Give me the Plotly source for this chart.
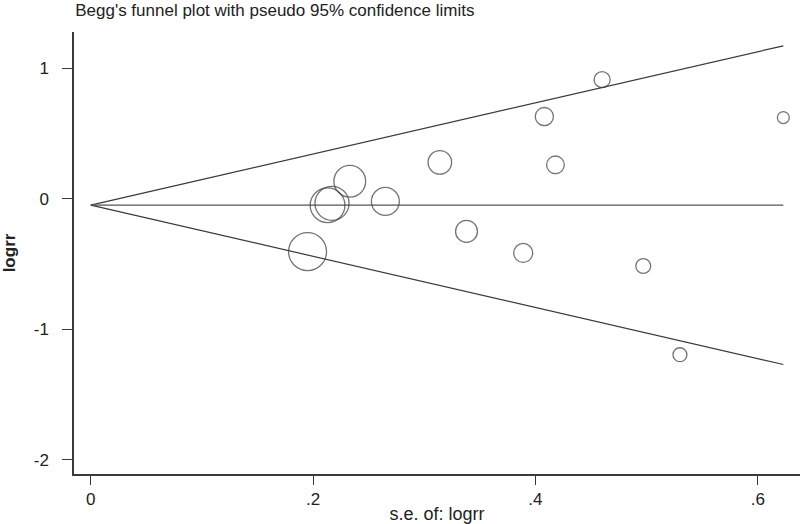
import plotly.graph_objects as go

# study-level estimates
se = [0.460, 0.408, 0.623, 0.314, 0.418, 0.233, 0.213, 0.217, 0.265, 0.195, 0.338, 0.389, 0.497, 0.530]
logrr = [0.913, 0.630, 0.622, 0.279, 0.260, 0.134, -0.050, -0.035, -0.020, -0.405, -0.250, -0.415, -0.515, -1.195]

pooled = -0.049
se_max = max(se)

x_ticks = [0, 0.2, 0.4, 0.6]
x_labels = ["0", ".2", ".4", ".6"]
y_ticks = [-2, -1, 0, 1]
y_labels = ["-2", "-1", "0", "1"]

line_color = "#3a3a3a"
font = "Liberation Sans, Arial, sans-serif"

fig = go.Figure()

# pseudo 95% confidence limits and pooled estimate
fig.add_trace(go.Scatter(
    x=[0, se_max], y=[pooled, pooled + 1.96 * se_max],
    mode="lines", line=dict(color=line_color, width=1.2), showlegend=False
))
fig.add_trace(go.Scatter(
    x=[0, se_max], y=[pooled, pooled - 1.96 * se_max],
    mode="lines", line=dict(color=line_color, width=1.2), showlegend=False
))
fig.add_trace(go.Scatter(
    x=[0, se_max], y=[pooled, pooled],
    mode="lines", line=dict(color="#555555", width=1.2), showlegend=False
))

# studies, marker size proportional to 1/se
fig.add_trace(go.Scatter(
    x=se, y=logrr, mode="markers",
    marker=dict(size=[7.4 / s for s in se], color="rgba(0,0,0,0)",
                line=dict(color=line_color, width=1.3)),
    showlegend=False
))

fig.update_layout(
    width=800, height=524,
    margin=dict(l=74, r=0, t=32, b=48),
    paper_bgcolor="white", plot_bgcolor="white",
    font=dict(family=font, size=17, color="#222222"),
    title=dict(text="Begg's funnel plot with pseudo 95% confidence limits",
               x=0.094, xanchor="left", y=0.981, yanchor="middle",
               font=dict(family=font, size=17, color="#222222")),
    xaxis=dict(
        range=[-0.0151, 0.638], tickvals=x_ticks, ticktext=x_labels,
        showgrid=False, zeroline=False, showline=True, linecolor=line_color, linewidth=1.5,
        ticks="outside", ticklen=9, tickcolor=line_color,
        title=dict(text="s.e. of: logrr", font=dict(family=font, size=18), standoff=2),
    ),
    yaxis=dict(
        range=[-2.109, 1.278], tickvals=y_ticks, ticktext=y_labels,
        showgrid=False, zeroline=False, showline=True, linecolor=line_color, linewidth=1.5,
        ticks="outside", ticklen=10, tickcolor=line_color, ticklabelstandoff=10,
        title=dict(text="<b>logrr</b>", font=dict(family=font, size=17), standoff=18),
    ),
)

fig.write_html("out.html", config={"displayModeBar": False},
               post_script="document.body.style.margin='0';")
